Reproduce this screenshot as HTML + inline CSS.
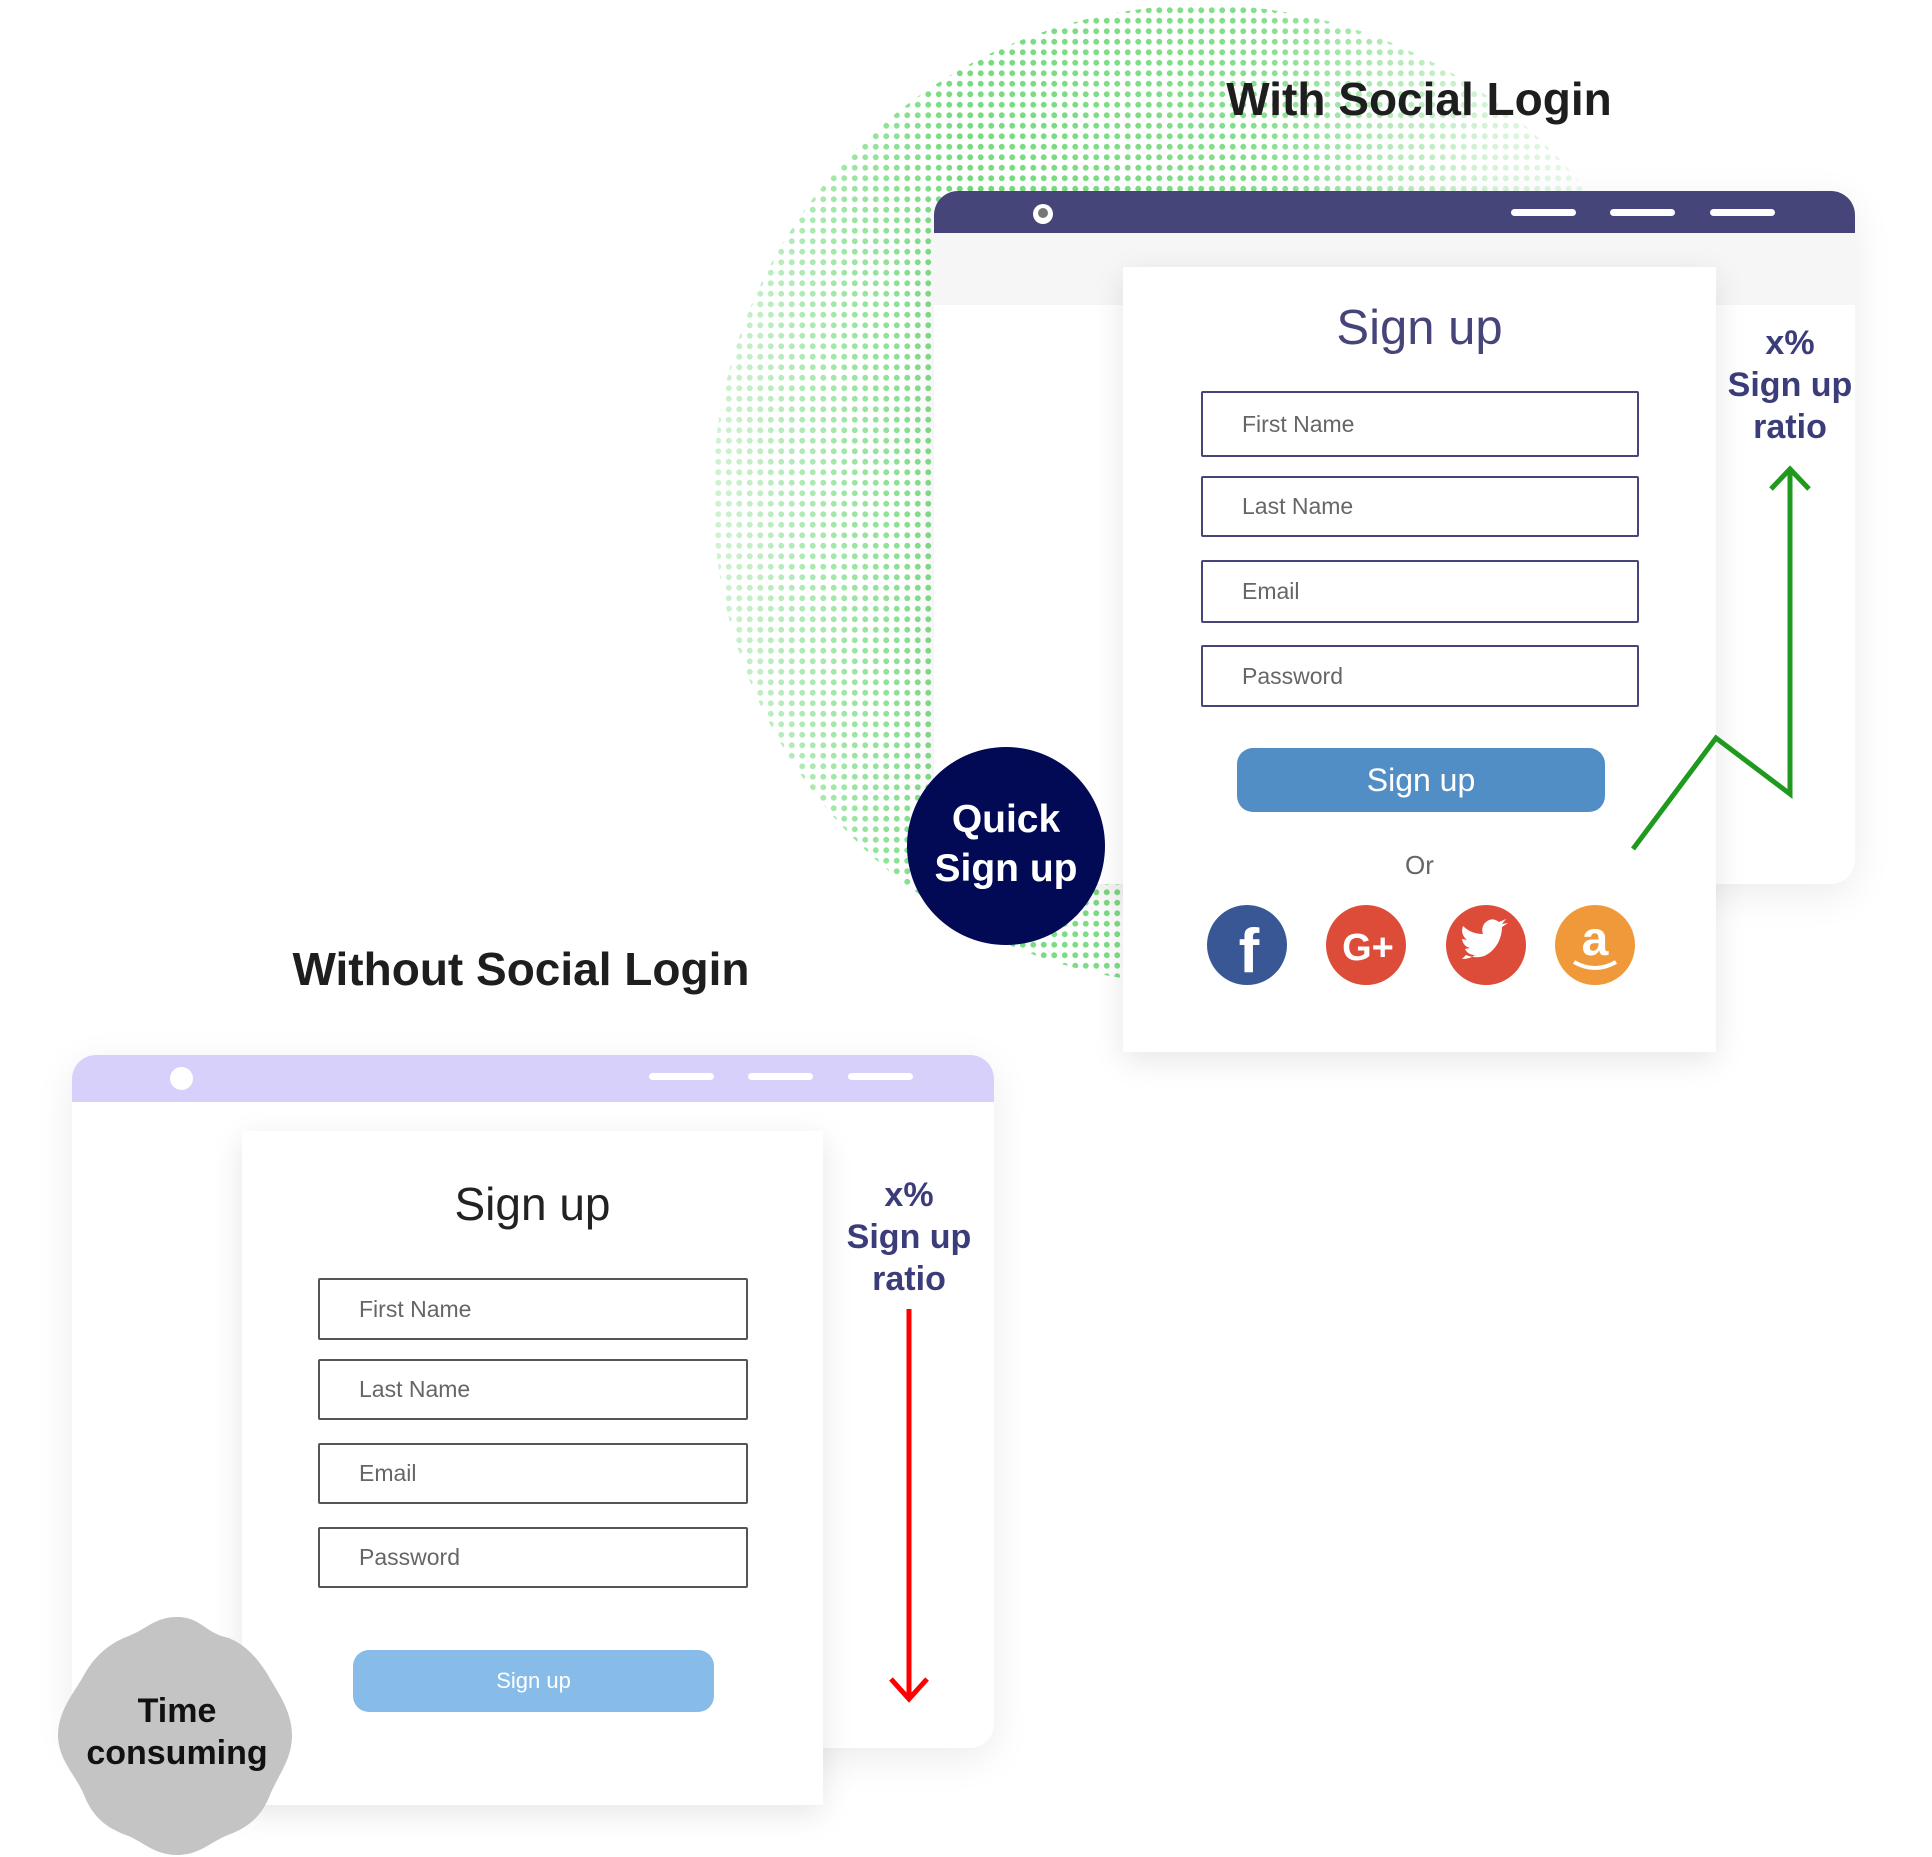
<!DOCTYPE html>
<html><head><meta charset="utf-8"><style>
*{margin:0;padding:0;box-sizing:border-box}
body{width:1932px;height:1857px;background:#fff;position:relative;overflow:hidden;font-family:"Liberation Sans",sans-serif}
.abs{position:absolute}
.dots{left:713px;top:5px;width:980px;height:980px;border-radius:50%;
background:radial-gradient(circle,#76db7e 2.6px,transparent 3.2px) 0 0/10.5px 10.5px;
-webkit-mask-image:linear-gradient(to right,rgba(0,0,0,.35) 0%,rgba(0,0,0,1) 25%,rgba(0,0,0,.9) 55%,rgba(0,0,0,.3) 80%,rgba(0,0,0,0) 100%);}
.browser{background:#fff;border-radius:24px;box-shadow:0 10px 40px rgba(0,0,0,.08);overflow:hidden}
.card{background:#fff;box-shadow:0 8px 30px rgba(0,0,0,.10)}
.inp{position:absolute;border:2px solid #46457a;border-radius:2px;font-family:"Liberation Sans",sans-serif;font-size:23px;color:#666;padding-left:39px;display:flex;align-items:center}
.inp2{border-color:#555}
.line{position:absolute;height:7px;border-radius:4px;background:#fff}
.title{font-weight:bold;font-size:46px;color:#1e1e1e;text-align:center;white-space:nowrap}
.ratio{font-weight:bold;font-size:34px;line-height:42px;color:#3b3c7a;text-align:center;width:200px}
</style></head><body>
<div class="abs dots"></div>
<div class="abs title" style="left:1119px;top:72px;width:600px">With Social Login</div>

<div class="abs browser" style="left:934px;top:191px;width:921px;height:693px">
  <div class="abs" style="left:0;top:0;width:921px;height:42px;background:#46457a"></div>
  <div class="abs" style="left:0;top:42px;width:921px;height:72px;background:#f6f6f6"></div>
  <div class="abs" style="left:99px;top:13px;width:20px;height:20px;border-radius:50%;background:#fff"></div>
  <div class="abs" style="left:104px;top:17px;width:10px;height:10px;border-radius:50%;background:#777"></div>
  <div class="line" style="left:577px;top:18px;width:65px"></div>
  <div class="line" style="left:676px;top:18px;width:65px"></div>
  <div class="line" style="left:776px;top:18px;width:65px"></div>
</div>
<div class="abs ratio" style="left:1690px;top:322px">x%<br>Sign up<br>ratio</div>
<div class="abs card" style="left:1123px;top:267px;width:593px;height:785px"></div>
<div class="abs" style="left:1123px;top:300px;width:593px;text-align:center;font-size:49px;color:#46457a">Sign up</div>
<div class="inp" style="left:1201px;top:391px;width:438px;height:66px">First Name</div>
<div class="inp" style="left:1201px;top:476px;width:438px;height:61px">Last Name</div>
<div class="inp" style="left:1201px;top:560px;width:438px;height:63px">Email</div>
<div class="inp" style="left:1201px;top:645px;width:438px;height:62px">Password</div>
<div class="abs" style="left:1237px;top:748px;width:368px;height:64px;border-radius:16px;background:#528ec6;color:#fff;font-size:32px;display:flex;align-items:center;justify-content:center">Sign up</div>
<div class="abs" style="left:1123px;top:850px;width:593px;text-align:center;font-size:26px;color:#666">Or</div>
<svg class="abs" style="left:0;top:0" width="1932" height="1857">
  <circle cx="1247" cy="945" r="40" fill="#3a5795"/>
  <text x="1249" y="972" font-family="Liberation Sans" font-weight="bold" font-size="62" fill="#fff" text-anchor="middle">f</text>
  <circle cx="1366" cy="945" r="40" fill="#dd4b39"/>
  <text x="1368" y="960" font-family="Liberation Sans" font-weight="bold" font-size="38" fill="#fff" text-anchor="middle">G+</text>
  <circle cx="1486" cy="945" r="40" fill="#dd4b39"/>
  <path d="M1466 955 q20 8 32 -12 q4 -8 4 -16 l6 -4 l-6 1 l4 -5 l-7 3 q-8 -6 -15 2 q-3 5 -1 10 q-12 0 -20 -8 q-3 8 4 14 l-5 -1 q1 7 8 9 l-5 1 q3 6 10 6 q-5 4 -13 4z" fill="#fff"/>
  <circle cx="1595" cy="945" r="40" fill="#f0993a"/>
  <text x="1595" y="955" font-family="Liberation Sans" font-weight="bold" font-size="48" fill="#fff" text-anchor="middle">a</text>
  <path d="M1574 962 q21 12 42 0" stroke="#fff" stroke-width="4" fill="none"/>
  <circle cx="1006" cy="846" r="99" fill="#020a55"/>
  <text x="1006" y="832" font-family="Liberation Sans" font-weight="bold" font-size="39" fill="#fff" text-anchor="middle">Quick</text>
  <text x="1006" y="881" font-family="Liberation Sans" font-weight="bold" font-size="39" fill="#fff" text-anchor="middle">Sign up</text>
  <polyline points="1633,849 1716,738 1790,794 1790,472" fill="none" stroke="#1f9a1f" stroke-width="5"/>
  <polyline points="1771,489 1790,469 1809,489" fill="none" stroke="#1f9a1f" stroke-width="5"/>
</svg>

<div class="abs title" style="left:221px;top:942px;width:600px">Without Social Login</div>
<div class="abs browser" style="left:72px;top:1055px;width:922px;height:693px">
  <div class="abs" style="left:0;top:0;width:922px;height:47px;background:#d6d0fb"></div>
  <div class="abs" style="left:98px;top:12px;width:23px;height:23px;border-radius:50%;background:#fff"></div>
  <div class="line" style="left:577px;top:18px;width:65px"></div>
  <div class="line" style="left:676px;top:18px;width:65px"></div>
  <div class="line" style="left:776px;top:18px;width:65px"></div>
</div>
<div class="abs ratio" style="left:809px;top:1174px">x%<br>Sign up<br>ratio</div>
<div class="abs card" style="left:242px;top:1131px;width:581px;height:674px"></div>
<div class="abs" style="left:242px;top:1177px;width:581px;text-align:center;font-size:46px;color:#222">Sign up</div>
<div class="inp inp2" style="left:318px;top:1278px;width:430px;height:62px">First Name</div>
<div class="inp inp2" style="left:318px;top:1359px;width:430px;height:61px">Last Name</div>
<div class="inp inp2" style="left:318px;top:1443px;width:430px;height:61px">Email</div>
<div class="inp inp2" style="left:318px;top:1527px;width:430px;height:61px">Password</div>
<div class="abs" style="left:353px;top:1650px;width:361px;height:62px;border-radius:16px;background:#87bce8;color:#fff;font-size:22px;display:flex;align-items:center;justify-content:center">Sign up</div>
<svg class="abs" style="left:0;top:0" width="1932" height="1857">
  <line x1="909" y1="1309" x2="909" y2="1697" stroke="#f00" stroke-width="5"/>
  <polyline points="891,1679 909,1699 927,1679" fill="none" stroke="#f00" stroke-width="5"/>
  <path d="M177,1617 C200,1617 205,1632 225,1637 C245,1642 260,1662 268,1675 C276,1690 292,1710 292,1735 C292,1760 278,1775 270,1795 C262,1815 250,1827 228,1835 C210,1842 200,1855 177,1855 C154,1855 144,1842 126,1835 C104,1827 92,1815 84,1795 C76,1775 58,1760 58,1735 C58,1710 76,1690 84,1675 C92,1660 106,1645 126,1637 C146,1630 154,1617 177,1617 Z" fill="#c4c4c4"/>
  <text x="177" y="1722" font-family="Liberation Sans" font-weight="bold" font-size="34" fill="#111" text-anchor="middle">Time</text>
  <text x="177" y="1764" font-family="Liberation Sans" font-weight="bold" font-size="34" fill="#111" text-anchor="middle">consuming</text>
</svg>
</body></html>
